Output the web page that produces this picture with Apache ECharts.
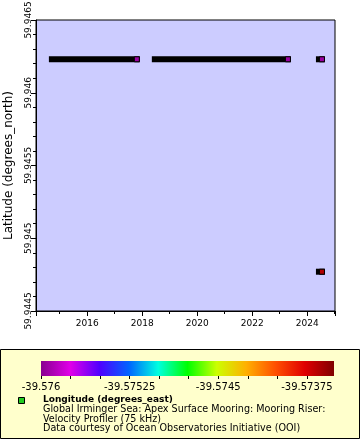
<!DOCTYPE html>
<html>
<head>
<meta charset="utf-8">
<script src="https://cdn.jsdelivr.net/npm/echarts@6/dist/echarts.min.js"></script>
<style>html,body{margin:0;padding:0;background:#fff;}#c{width:360px;height:440px;}</style>
</head>
<body>
<div id="c"></div>
<script>
// ---- data ----
const deployStart = ['2014-09-20', '2018-06-18', '2024-06-05', '2024-06-05'];
const deployEnd   = ['2017-10-22', '2023-04-20', '2024-07-15', '2024-07-15'];
const latitude    = [59.94623, 59.94623, 59.94623, 59.94477];
const longitude   = [-39.57595, -39.57595, -39.57595, -39.57365];
const xMin = 2014.14, xMax = 2025.01;
const yMin = 59.9445, yMax = 59.9465, yStep = 0.0005;
const lonMin = -39.576, lonMax = -39.57352, lonStep = 0.00025;
const palette = ['#880090', '#e000e8', '#5000ff', '#0064ff', '#00ffe0', '#00ff00',
                 '#ccff00', '#ffb000', '#ff5000', '#e00000', '#800000'];
const yTitle = 'Latitude (degrees_north)';
const legendTitle = 'Longitude (degrees_east)';
const legendLines = ['Global Irminger Sea: Apex Surface Mooring: Mooring Riser:',
                     'Velocity Profiler (75 kHz)',
                     'Data courtesy of Ocean Observatories Initiative (OOI)'];

function decYear(s) {
  const [y, m, d] = s.split('-').map(Number);
  const t0 = Date.UTC(y, 0, 1), t1 = Date.UTC(y + 1, 0, 1);
  return y + (Date.UTC(y, m - 1, d) - t0) / (t1 - t0);
}
const segs = deployStart.map((s, i) => [decYear(s), decYear(deployEnd[i]), latitude[i], longitude[i]]);
const endPts = segs.map(s => [s[1], s[2], s[3]]);

const FONT = 'DejaVu Sans';
const chart = echarts.init(document.getElementById('c'), null, {renderer: 'canvas'});
chart.setOption({
  animation: false,
  backgroundColor: '#ffffff',
  textStyle: {fontFamily: FONT, color: '#000'},
  grid: [
    {left: 36, top: 20, right: 25, bottom: 129, show: true, backgroundColor: '#ccccff',
     borderColor: '#000', borderWidth: 1, containLabel: false, outerBoundsMode: 'none'},
    {left: 41, right: 26, top: 361, height: 15, show: false, containLabel: false, outerBoundsMode: 'none'}
  ],
  xAxis: [
    {type: 'value', gridIndex: 0, min: xMin, max: xMax, splitNumber: 5,
     axisLine: {lineStyle: {color: '#000'}},
     axisTick: {show: true, length: 5, lineStyle: {color: '#000'}},
     minorTick: {show: true, splitNumber: 2, length: 3, lineStyle: {color: '#000'}},
     splitLine: {show: false},
     axisLabel: {showMinLabel: false, showMaxLabel: false, fontFamily: FONT, fontSize: 9, color: '#000', margin: 8,
                 formatter: v => (Math.abs(v - Math.round(v)) < 1e-6 ? String(Math.round(v)) : '')}},
    {type: 'value', gridIndex: 1, min: lonMin, max: lonMax, interval: lonStep,
     axisLine: {show: false},
     axisTick: {show: true, length: 3, lineStyle: {color: '#000'}},
     splitLine: {show: false},
     axisLabel: {showMaxLabel: false, fontFamily: FONT, fontSize: 10, color: '#000', margin: 6,
                 formatter: v => {
                   const k = Math.round((v - lonMin) / lonStep);
                   return k % 3 === 0 ? String(parseFloat(v.toFixed(5))) : '';
                 }}}
  ],
  yAxis: [
    {type: 'value', gridIndex: 0, min: yMin, max: yMax, interval: yStep,
     name: yTitle, nameLocation: 'middle', nameRotate: 90, nameGap: 21,
     nameTextStyle: {fontFamily: FONT, fontSize: 12, color: '#000'},
     axisLine: {lineStyle: {color: '#000'}},
     axisTick: {show: true, length: 5, lineStyle: {color: '#000'}},
     minorTick: {show: true, splitNumber: 5, length: 3, lineStyle: {color: '#000'}},
     splitLine: {show: false},
     axisLabel: {rotate: 90, fontFamily: FONT, fontSize: 9, color: '#000', margin: 3,
                 formatter: v => String(parseFloat(v.toFixed(4)))}},
    {type: 'value', gridIndex: 1, show: false, min: 0, max: 1}
  ],
  visualMap: {show: false, type: 'continuous', seriesIndex: 1, dimension: 2,
              min: lonMin, max: lonMax, inRange: {color: palette}},
  series: [
    {type: 'custom', xAxisIndex: 0, yAxisIndex: 0, data: segs, z: 2,
     renderItem: (params, api) => {
       const a = api.coord([api.value(0), api.value(2)]);
       const b = api.coord([api.value(1), api.value(2)]);
       return {type: 'rect', shape: {x: a[0] - 3, y: a[1] - 3, width: b[0] - a[0] + 6, height: 6},
               style: {fill: '#000'}};
     }},
    {type: 'scatter', xAxisIndex: 0, yAxisIndex: 0, data: endPts, z: 3,
     symbol: 'rect', symbolSize: 5,
     itemStyle: {borderColor: '#000', borderWidth: 1, opacity: 1}},
    {type: 'line', xAxisIndex: 1, yAxisIndex: 1, data: [], silent: true}
  ],
  graphic: [
    {type: 'rect', shape: {x: 0.5, y: 349.5, width: 359, height: 89}, z: -10,
     style: {fill: '#ffffcc', stroke: '#000', lineWidth: 1}},
    {type: 'rect', shape: {x: 41, y: 361, width: 293, height: 15}, z: 5,
     style: {fill: new echarts.graphic.LinearGradient(0, 0, 1, 0,
       palette.map((c, i) => ({offset: i / (palette.length - 1), color: c})))}},
    {type: 'rect', shape: {x: 18.5, y: 397.5, width: 6, height: 6}, z: 5,
     style: {fill: '#22cc22', stroke: '#000', lineWidth: 1}},
    {type: 'text', x: 43, y: 395, z: 5,
     style: {text: legendTitle, font: 'bold 9px "DejaVu Sans"', fill: '#000'}},
    ...legendLines.map((t, i) => ({type: 'text', x: 43, y: 404.5 + i * 9.5, z: 5,
     style: {text: t, font: '9.6px "DejaVu Sans"', fill: '#000'}}))
  ]
});
</script>
</body>
</html>
